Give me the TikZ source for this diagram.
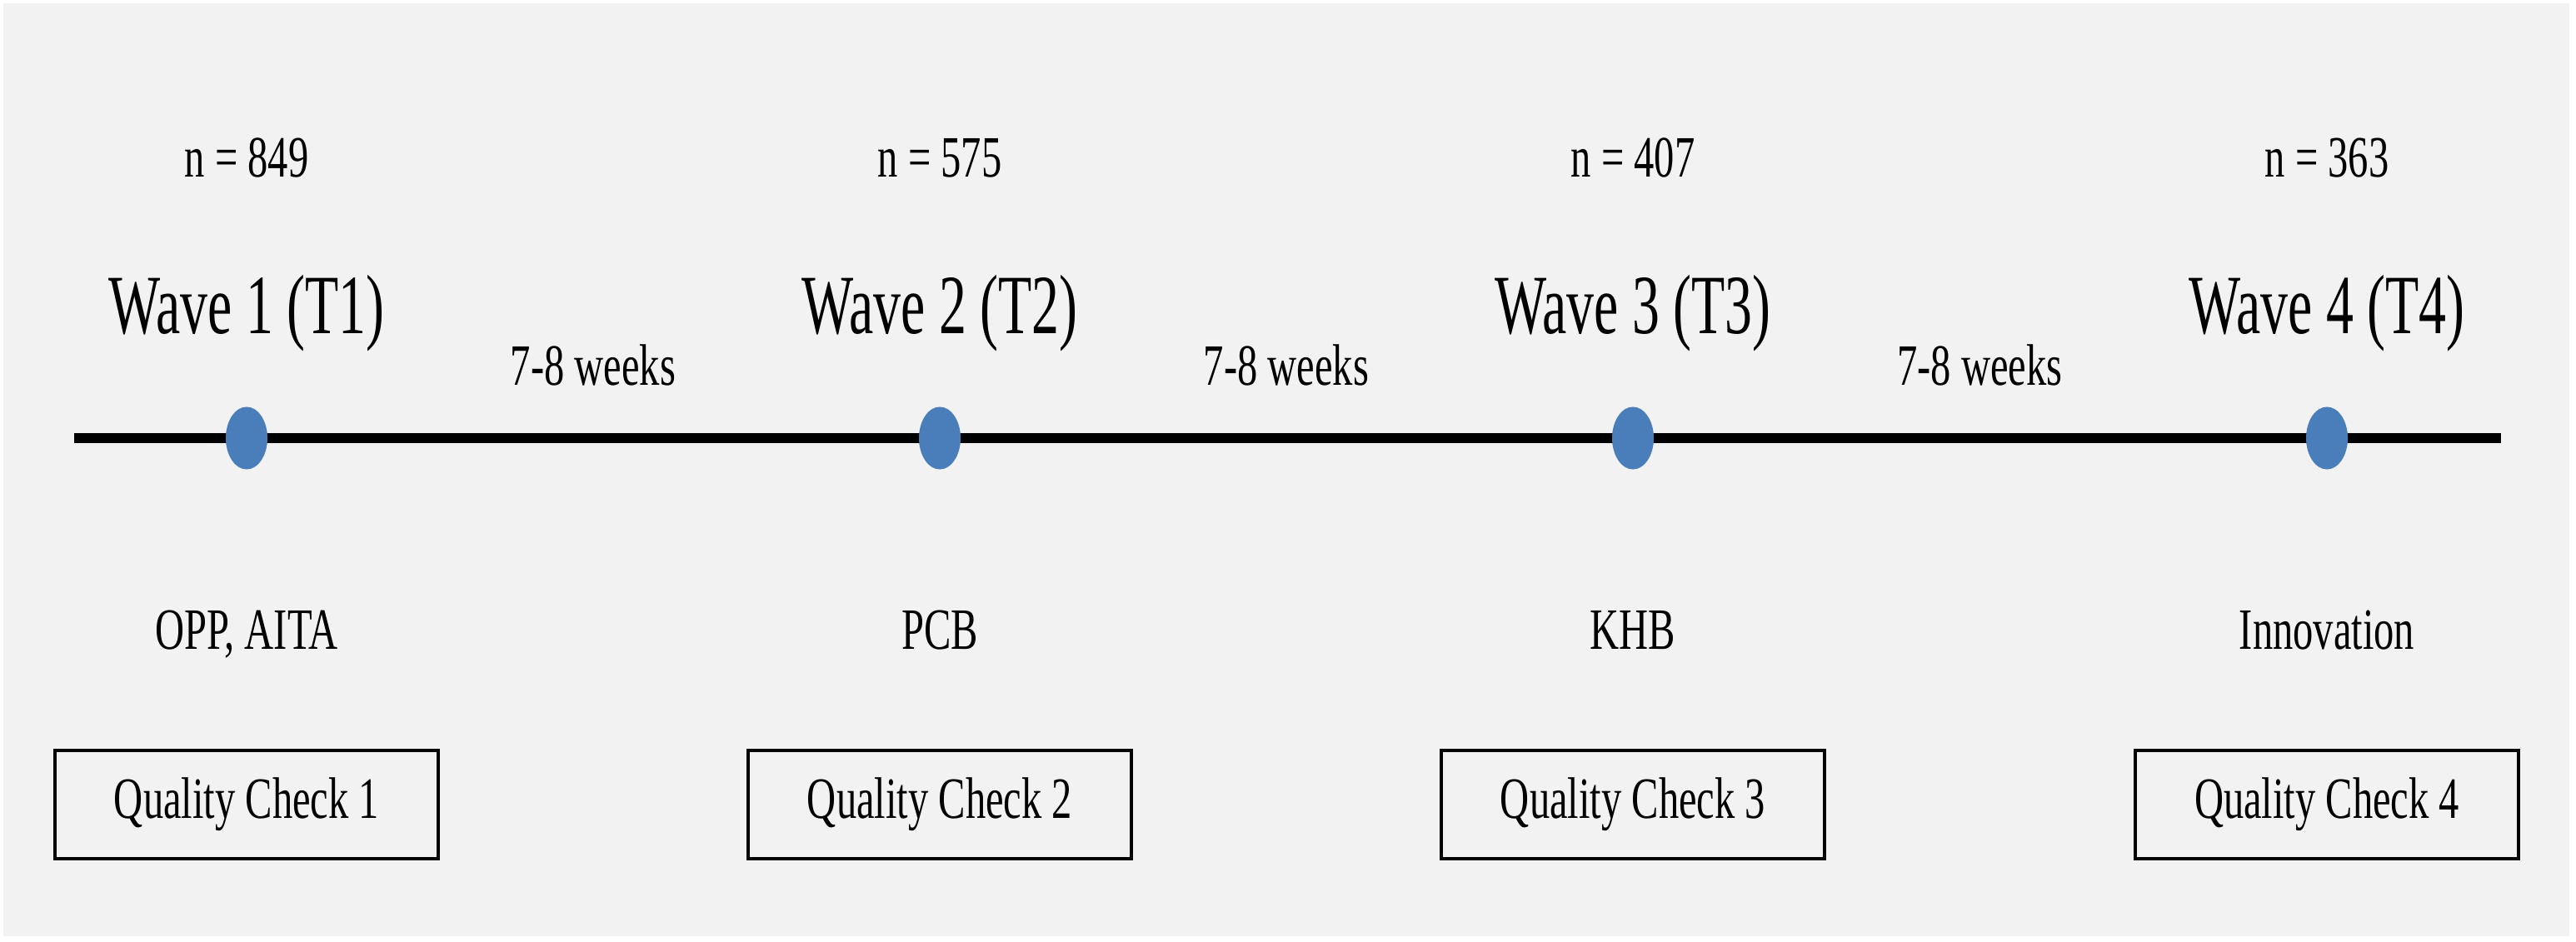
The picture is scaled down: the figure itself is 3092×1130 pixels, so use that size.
\documentclass[tikz,border=0pt]{standalone}
\usepackage{fontspec}
\setmainfont{Liberation Serif}[FakeStretch=0.69]
\newfontfamily\wavefont{Liberation Serif}[FakeStretch=0.65]
\usetikzlibrary{shapes.geometric,calc}
\definecolor{bgc}{HTML}{F2F2F2}
\definecolor{dotc}{HTML}{4A7EBB}
\tikzset{
  x=0.01cm, y=-0.01cm,
  small/.style={font=\fontsize{20}{24}\selectfont, inner sep=0pt, anchor=base},
  wavelbl/.style={font=\wavefont\fontsize{28.8}{34}\selectfont, inner sep=0pt, anchor=base},
  wdot/.style={ellipse, fill=dotc, minimum width=0.5cm, minimum height=0.75cm, inner sep=0pt},
  qbox/.style={draw=black, line width=0.045cm, minimum width=4.6cm, minimum height=1.3cm, inner sep=0pt, font=\fontsize{20}{24}\selectfont},
  axis/.style={line width=0.12cm, black}
}
\begin{document}
\begin{tikzpicture}
\useasboundingbox (0,0) rectangle (3092,1130);
\fill[white] (0,0) rectangle (3092,1130);
\fill[bgc] (4,4) rectangle (3084,1124);
\coordinate (L) at (89,526);
\coordinate (R) at (3002,526);
\draw[axis] (L) -- (R);
\foreach \i/\x/\n/\m in {1/296/849/{OPP, AITA},2/1128/575/PCB,3/1960/407/KHB,4/2793/363/Innovation}{
  \node[wdot] (dot\i) at (\x,526) {};
  \node[small] (n\i) at (\x,212) {n = \n};
  \node[wavelbl] (wave\i) at (\x,400) {Wave \i\ (T\i)};
  \node[small] (m\i) at (\x,779) {\m};
  \node[qbox] (q\i) at (\x,966) {Quality Check \i};
}
\foreach \a/\b in {1/2,2/3,3/4}{
  \node[small] (gap\a) at ($(dot\a)!0.5!(dot\b)$) [yshift=0.63cm] {7-8 weeks};
}
\end{tikzpicture}
\end{document}
